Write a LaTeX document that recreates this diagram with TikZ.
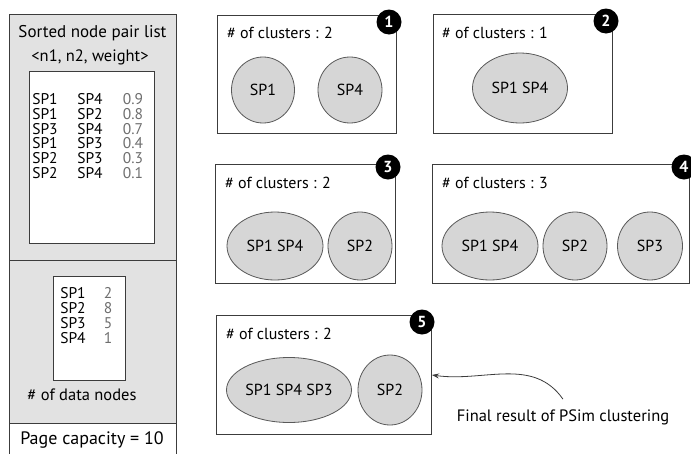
\documentclass[tikz,border=0pt]{standalone}
\usepackage{fontspec}
\setmainfont{PT Sans}
\usetikzlibrary{shapes.geometric,arrows.meta}
\definecolor{panelgray}{RGB}{226,226,226}
\definecolor{ellgray}{RGB}{214,214,214}
\definecolor{linegray}{RGB}{60,60,60}
\definecolor{numgray}{RGB}{110,110,110}
\begin{document}
\begin{tikzpicture}[x=1pt,y=-1pt,
  panelbox/.style={draw=linegray, line width=0.9pt, fill=panelgray, anchor=north west, inner sep=0pt, minimum width=167pt},
  listbox/.style={draw=linegray, line width=0.8pt, fill=white, anchor=north west, inner sep=0pt},
  clusterbox/.style={draw=linegray, line width=1pt, fill=white, anchor=north west, inner sep=0pt, minimum height=119pt},
  clu/.style={ellipse, draw=linegray!85, line width=0.8pt, fill=ellgray, inner sep=0pt, font=\fontsize{16}{18}\selectfont},
  badge/.style={circle, fill=black, text=white, inner sep=0pt, minimum size=25pt, font=\bfseries\fontsize{16}{18}\selectfont},
  ctitle/.style={anchor=west, inner sep=0pt, font=\fontsize{16}{18}\selectfont},
  cell/.style={inner sep=0pt, font=\fontsize{15.5}{17}\selectfont},
  num/.style={cell, text=numgray},
  ptext/.style={inner sep=0pt, font=\fontsize{16.5}{18}\selectfont},
]
\useasboundingbox (0,0) rectangle (691,453);
\fill[white] (0,0) rectangle (691,453);

% left panel
\node[panelbox, minimum height=246pt] (pairsec) at (9,14) {};
\node[panelbox, minimum height=163pt] (datasec) at (9,260) {};
\node[panelbox, fill=white, minimum height=45pt] (capsec) at (9,423) {};

\node[ptext, font=\fontsize{17}{19}\selectfont] (pairtitle) at (92.5,33) {Sorted node pair list};
\node[ptext] (pairfmt) at (90,57) {<n1, n2, weight>};

\node[listbox, minimum width=125pt, minimum height=172pt] (pairlist) at (29,71) {};
\foreach \a/\b/\w [count=\i] in {SP1/SP4/0.9, SP1/SP2/0.8, SP3/SP4/0.7, SP1/SP3/0.4, SP2/SP3/0.3, SP2/SP4/0.1} {
  \node[cell] (pa\i) at (45, 84.2+14.8*\i) {\a};
  \node[cell] (pb\i) at (90, 84.2+14.8*\i) {\b};
  \node[num]  (pw\i) at (133, 84.2+14.8*\i) {\w};
}

\node[listbox, minimum width=72pt, minimum height=104pt] (datalist) at (53,276) {};
\foreach \a/\n [count=\i] in {SP1/2, SP2/8, SP3/5, SP4/1} {
  \node[cell] (da\i) at (73, 278+15*\i) {\a};
  \node[num]  (dn\i) at (108, 278+15*\i) {\n};
}
\node[ptext] (datalabel) at (82,395) {\# of data nodes};
\node[ptext, font=\fontsize{18}{20}\selectfont] (caplabel) at (92,440) {Page capacity = 10};

% cluster boxes
\node[clusterbox, minimum width=179pt, minimum height=118pt] (box1) at (217,15) {};
\node[clusterbox, minimum width=179pt] (box2) at (433,14) {};
\node[clusterbox, minimum width=180pt] (box3) at (215,164) {};
\node[clusterbox, minimum width=257pt] (box4) at (432,164) {};
\node[clusterbox, minimum width=215pt] (box5) at (216,315) {};

\node[ctitle] (t1) at (227,33) {\# of clusters : 2};
\node[ctitle] (t2) at (442,33) {\# of clusters : 1};
\node[ctitle] (t3) at (225,183) {\# of clusters : 2};
\node[ctitle] (t4) at (442,183) {\# of clusters : 3};
\node[ctitle] (t5) at (226,334) {\# of clusters : 2};

% clusters
\node[clu, minimum width=63pt, minimum height=66pt] (c1a) at (263,90) {SP1};
\node[clu, minimum width=64pt, minimum height=66pt] (c1b) at (350,90) {SP4};
\node[clu, minimum width=95pt, minimum height=70pt] (c2a) at (520,88) {SP1 SP4};
\node[clu, minimum width=96pt, minimum height=68pt] (c3a) at (275,246) {SP1 SP4};
\node[clu, minimum width=64pt, minimum height=68pt] (c3b) at (360,246) {SP2};
\node[clu, minimum width=96pt, minimum height=68pt] (c4a) at (490,246) {SP1 SP4};
\node[clu, minimum width=64pt, minimum height=68pt] (c4b) at (575,246) {SP2};
\node[clu, minimum width=65pt, minimum height=68pt] (c4c) at (650,246) {SP3};
\node[clu, minimum width=125pt, minimum height=65pt] (c5a) at (289,390) {SP1 SP4 SP3};
\node[clu, minimum width=64pt, minimum height=70pt] (c5b) at (390,390) {SP2};

% badges
\node[badge] (b1) at (389,22) {1};
\node[badge] (b2) at (606,21) {2};
\node[badge] (b3) at (388,167) {3};
\node[badge] (b4) at (684,167) {4};
\node[badge] (b5) at (422,322) {5};

% final annotation
\node[ptext] (finaltext) at (563,417) {Final result of PSim clustering};
\coordinate (arrowstart) at ([yshift=10pt]finaltext.north);
\draw[linegray, line width=0.8pt, -{Stealth[length=7pt,width=5pt]}] (arrowstart) to[out=125,in=-8] (box5.east);
\end{tikzpicture}
\end{document}
